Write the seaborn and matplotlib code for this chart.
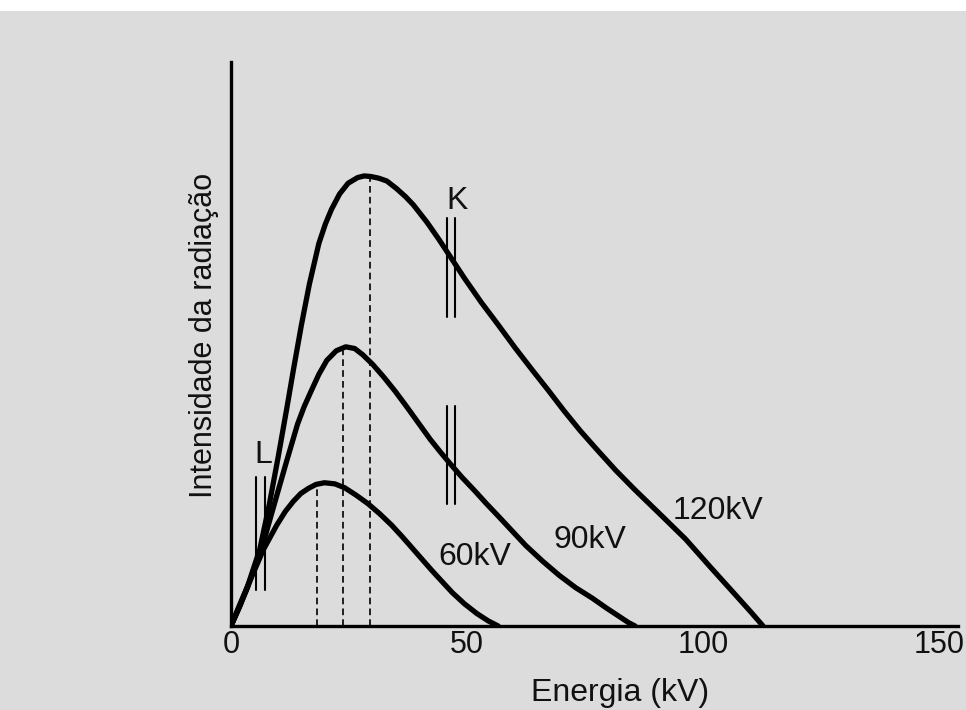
import numpy as np
import pandas as pd
import seaborn as sns
import matplotlib.pyplot as plt
from matplotlib.patches import Rectangle

# energia (kV) / intensidade
kv_120 = [0, 1.8, 3.5, 6.1, 8.1, 10.0, 11.8, 13.3, 14.9, 16.6, 18.6, 20.0, 21.3, 23.0,
          24.8, 26.8, 28.2, 29.6, 31.3, 33.0, 35.0, 37.0, 38.6, 41.5, 44.0, 46.2, 49.5,
          53.0, 56.6, 60.2, 63.9, 67.2, 70.5, 74.0, 77.6, 81.5, 85.5, 90.8, 96.3, 101.6,
          107.1, 110.0, 112.7]
int_120 = [0, 3.4, 7.0, 13.6, 21.5, 30.0, 38.5, 45.8, 53.3, 60.6, 67.8, 71.3, 73.9, 76.6,
           78.5, 79.5, 79.8, 79.7, 79.4, 78.9, 77.6, 76.1, 74.7, 71.6, 68.6, 65.8, 61.6,
           57.4, 53.4, 49.3, 45.3, 41.8, 38.2, 34.6, 31.2, 27.6, 24.2, 19.9, 15.4, 10.4,
           5.3, 2.6, 0]

kv_90 = [0, 1.8, 3.5, 5.2, 6.9, 8.9, 11.6, 14.1, 15.5, 17.0, 18.6, 20.3, 22.3, 24.3,
         26.2, 27.9, 30.0, 32.3, 34.8, 37.2, 39.7, 42.2, 44.4, 46.5, 49.0, 51.6, 54.1,
         56.6, 59.5, 62.4, 66.0, 69.5, 73.0, 76.6, 79.5, 82.4, 84.2, 85.6]
int_90 = [0, 3.4, 6.8, 10.8, 14.9, 20.8, 28.7, 35.8, 38.9, 41.7, 44.6, 47.1, 48.8, 49.5,
          49.2, 48.1, 46.4, 44.2, 41.6, 38.9, 36.0, 33.1, 30.8, 28.7, 26.3, 24.0, 21.7,
          19.5, 16.9, 14.3, 11.5, 9.0, 6.8, 4.9, 3.2, 1.6, 0.6, 0]

kv_60 = [0, 1.4, 4.0, 6.9, 9.7, 11.5, 13.2, 14.8, 16.4, 18.0, 19.8, 22.0, 24.1, 26.5,
         29.0, 31.5, 34.0, 36.2, 38.3, 40.5, 42.6, 44.8, 46.9, 49.5, 52.1, 54.5, 56.6]
int_60 = [0, 2.9, 8.0, 13.6, 17.9, 20.3, 22.1, 23.5, 24.4, 25.1, 25.4, 25.2, 24.5, 23.2,
          21.7, 19.9, 17.9, 15.9, 13.9, 11.8, 9.8, 7.8, 5.9, 3.9, 2.2, 0.9, 0]

# energia media (tracejado) e altura do pico
kv_medio = [18.3, 23.7, 29.4]
pico = [25.2, 49.4, 79.7]

# linhas caracteristicas K e L
kv_k = [45.7, 47.5]
k_faixas = [(54.7, 72.4), (21.6, 39.0)]
kv_l = [5.4, 7.2]
l_faixa = (6.3, 26.4)

rotulos = ['60kV', '90kV', '120kV']
rot_x = [51.7, 76.1, 103.2]
rot_y = [12.3, 15.3, 20.4]

df = pd.concat([
    pd.DataFrame({'kv': kv_60, 'intensidade': int_60, 'tensao': '60kV'}),
    pd.DataFrame({'kv': kv_90, 'intensidade': int_90, 'tensao': '90kV'}),
    pd.DataFrame({'kv': kv_120, 'intensidade': int_120, 'tensao': '120kV'}),
], ignore_index=True)

sns.set_theme(style='white')
plt.rcParams['font.family'] = ['Liberation Sans', 'DejaVu Sans']

fig = plt.figure(figsize=(9.66, 7.10), dpi=100, facecolor='white')
fig.patches.append(Rectangle((0, 0), 1, 1 - 11 / 710, transform=fig.transFigure,
                             facecolor='#dcdcdc', edgecolor='none', zorder=-5))
ax = fig.add_axes([231 / 966, 84 / 710, 727 / 966, 564 / 710])
ax.set_facecolor('none')

sns.lineplot(data=df, x='kv', y='intensidade', units='tensao', estimator=None,
             sort=False, color='black', linewidth=3.8, solid_joinstyle='round',
             ax=ax, zorder=3)

for x, h in zip(kv_medio, pico):
    ax.plot([x, x], [0, h], color='black', linewidth=1.2, linestyle=(0, (4, 2.5)), zorder=2)

for lo, hi in k_faixas:
    for x in kv_k:
        ax.plot([x, x], [lo, hi], color='black', linewidth=1.5, zorder=4)
for x in kv_l:
    ax.plot([x, x], l_faixa, color='black', linewidth=1.5, zorder=4)

for t, x, y in zip(rotulos, rot_x, rot_y):
    ax.text(x, y, t, fontsize=23, ha='center', va='center', color='#111111')
ax.text(47.9, 75.4, 'K', fontsize=23, ha='center', va='center', color='#111111')
ax.text(6.8, 30.3, 'L', fontsize=23, ha='center', va='center', color='#111111')

ax.set_xlim(0, 154)
ax.set_ylim(0, 100)
ax.set_xticks([0, 50, 100, 150])
ax.set_xticklabels(['0', '50', '100', '150'])
ax.set_yticks([])
ax.tick_params(axis='x', direction='in', length=7, width=1.5, color='black',
               labelsize=22, pad=3, labelcolor='#111111')
sns.despine(ax=ax)
for s in ['left', 'bottom']:
    ax.spines[s].set_linewidth(2.4)
    ax.spines[s].set_color('black')

ax.set_xlabel('Energia (kV)', fontsize=23, color='#111111')
ax.xaxis.set_label_coords(0.535, -0.092)
ax.set_ylabel('Intensidade da radiação', fontsize=22, color='#111111')
ax.yaxis.set_label_coords(-0.016, 0.516)

fig.savefig('out.png', dpi=100, facecolor=fig.get_facecolor())
